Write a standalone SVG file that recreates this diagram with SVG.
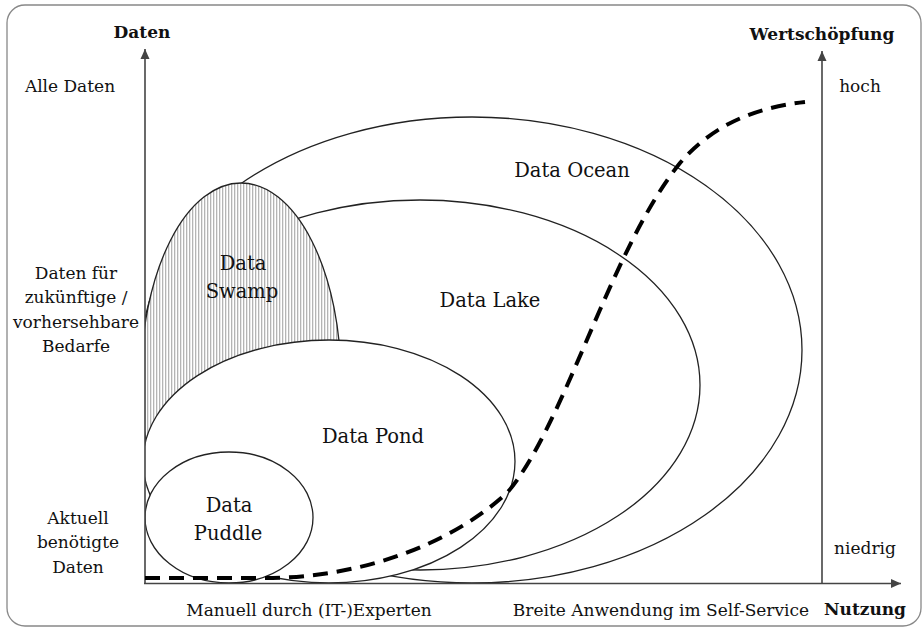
<svg xmlns="http://www.w3.org/2000/svg" width="922" height="629" viewBox="0 0 922 629">
<style>
.t{font-family:"DejaVu Serif","Liberation Serif",serif;font-size:17px;fill:#111;text-anchor:middle}
.b{font-weight:bold}
.n{font-family:"DejaVu Serif","Liberation Serif",serif;font-size:19.5px;fill:#111;text-anchor:middle}
.e{fill:#fff;stroke:#222;stroke-width:1.3}
.ax{stroke:#444;stroke-width:1.6;fill:none}
</style>
<defs>
<pattern id="hatch" width="3" height="6" patternUnits="userSpaceOnUse">
<rect width="3" height="6" fill="#fff"/>
<rect x="0" width="1.3" height="6" fill="#b4b4b4"/>
</pattern>
<clipPath id="clip"><rect x="145" y="0" width="777" height="629"/></clipPath>
<marker id="arr" viewBox="0 0 10 10" refX="10" refY="5" markerWidth="10" markerHeight="10" markerUnits="userSpaceOnUse" orient="auto">
<path d="M0,0.5 L10,5 L0,9.5 Z" fill="#444"/>
</marker>
</defs>
<rect x="7" y="5" width="914" height="621" rx="18" fill="#fff" stroke="#888" stroke-width="1.3"/>
<g clip-path="url(#clip)">
<g id="ocean"><ellipse class="e" cx="472" cy="350" rx="330" ry="233"/></g>
<g id="lake"><ellipse class="e" cx="420" cy="385" rx="280" ry="185"/></g>
<g id="swamp"><ellipse cx="241" cy="380" rx="100" ry="197" fill="url(#hatch)" stroke="#222" stroke-width="1.3"/></g>
<g id="pond"><ellipse class="e" cx="329" cy="461.5" rx="186" ry="121.5"/></g>
<g id="puddle"><ellipse class="e" cx="229" cy="517.5" rx="84" ry="65.5"/></g>
</g>
<g id="labels">
<text class="n" x="572" y="177">Data Ocean</text>
<text class="n" x="490" y="307">Data Lake</text>
<text class="n" x="243" y="270">Data</text>
<text class="n" x="242" y="298">Swamp</text>
<text class="n" x="373" y="443">Data Pond</text>
<text class="n" x="229" y="512">Data</text>
<text class="n" x="228" y="540">Puddle</text>
</g>
<g id="connectors">
<path class="ax" d="M145,584 V49" marker-end="url(#arr)"/>
<path class="ax" d="M822,584 V51" marker-end="url(#arr)"/>
<path class="ax" d="M144,583.5 H901" marker-end="url(#arr)"/>
<path d="M145,578 L265,578 C360,578 450,545 507,493 C565,425 610,250 680,163 C710,128 750,108 805,102" fill="none" stroke="#000" stroke-width="4" stroke-dasharray="15 9"/>
</g>
<g id="axis-text">
<text class="t b" x="142" y="38">Daten</text>
<text class="t b" x="822" y="40">Wertschöpfung</text>
<text class="t" x="70" y="92">Alle Daten</text>
<text class="t" x="860" y="92">hoch</text>
<text class="t" x="76" y="279">Daten für</text>
<text class="t" x="76" y="303">zukünftige /</text>
<text class="t" x="76" y="328">vorhersehbare</text>
<text class="t" x="76" y="352">Bedarfe</text>
<text class="t" x="78" y="524">Aktuell</text>
<text class="t" x="78" y="548">benötigte</text>
<text class="t" x="78" y="573">Daten</text>
<text class="t" x="865" y="554">niedrig</text>
<text class="t" x="309" y="616">Manuell durch (IT-)Experten</text>
<text class="t" x="661" y="616">Breite Anwendung im Self-Service</text>
<text class="t b" x="865" y="615">Nutzung</text>
</g>
</svg>
